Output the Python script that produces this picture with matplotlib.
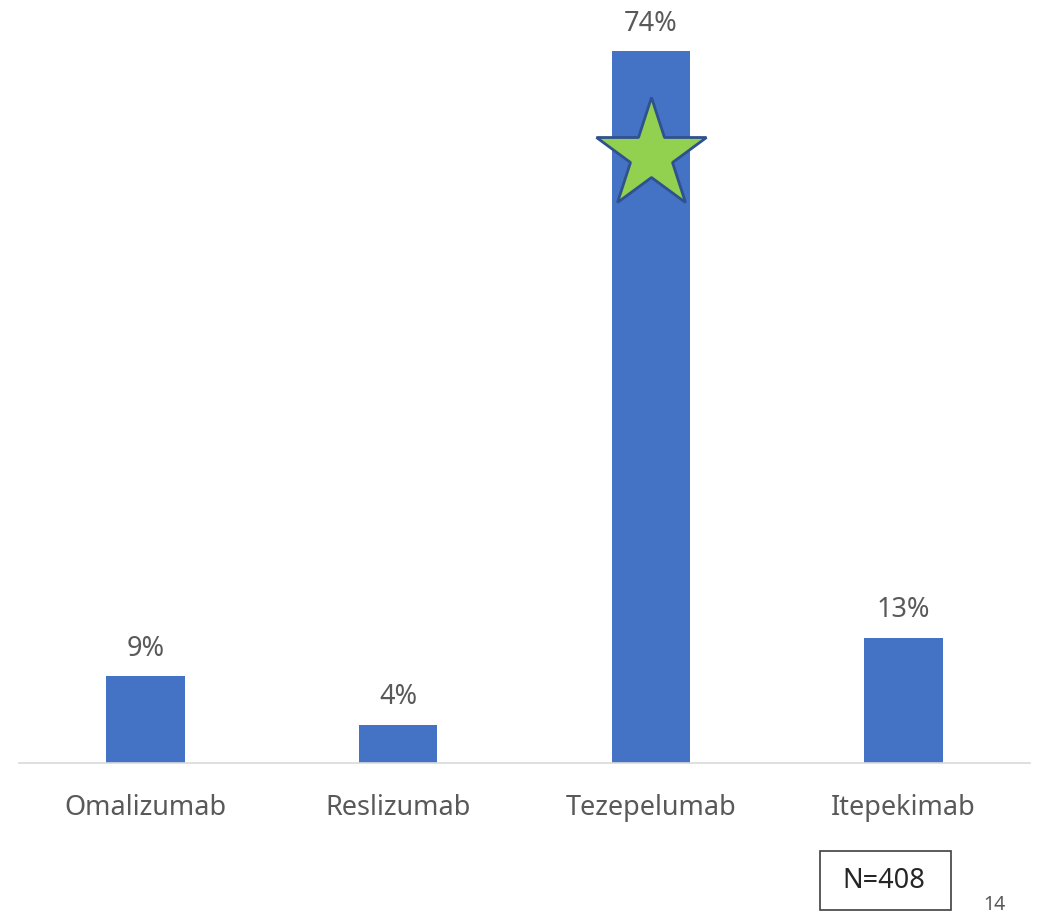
import matplotlib.pyplot as plt
from matplotlib.patches import Rectangle

drugs = ["Omalizumab", "Reslizumab", "Tezepelumab", "Itepekimab"]
shares = [9, 4, 74, 13]
sample_note = "N=408"
slide_no = "14"

plt.rcParams["font.family"] = ["Noto Sans", "DejaVu Sans"]
text_grey = "#595959"
bar_blue = "#4472C4"

fig = plt.figure(figsize=(10.4, 9.13), dpi=100)
ax = fig.add_axes([19 / 1040, 1 - 763 / 913, 1011 / 1040, 750 / 913])

x = range(len(drugs))
ax.bar(x, shares, width=0.31, color=bar_blue, zorder=2)
ax.set_xlim(-0.5, len(drugs) - 0.5)
ax.set_ylim(0, 78)

for xi, v in zip(x, shares):
    ax.annotate(f"{v}%", (xi, v), xytext=(0, 20), textcoords="offset points",
                ha="center", va="center", fontsize=19.5, color=text_grey,
                annotation_clip=False)

# highlight the top pick with a star on its bar
top = shares.index(max(shares))
ax.plot(top, max(shares) * 0.855, marker="*", markersize=84,
        markerfacecolor="#92D050", markeredgecolor="#2F528F",
        markeredgewidth=2.0, zorder=3)

ax.set_xticks(list(x))
ax.set_xticklabels(drugs, fontsize=19.5, color=text_grey)
ax.tick_params(axis="x", length=0, pad=22)
ax.set_yticks([])
for side in ["left", "right", "top"]:
    ax.spines[side].set_visible(False)
ax.spines["bottom"].set_color("#D9D9D9")
ax.spines["bottom"].set_linewidth(1.2)

# sample size box under the last category
fig.patches.append(Rectangle((820 / 1040, 1 - 910 / 913), 131 / 1040, 59 / 913,
                             transform=fig.transFigure, fill=False,
                             edgecolor="#404040", linewidth=1.2))
fig.text(884 / 1040, 1 - 881 / 913, sample_note, ha="center", va="center",
         fontsize=19.5, color="#262626")
fig.text(994 / 1040, 1 - 905 / 913, slide_no, ha="center", va="center",
         fontsize=14, color=text_grey)

fig.savefig("out.png", dpi=100)
